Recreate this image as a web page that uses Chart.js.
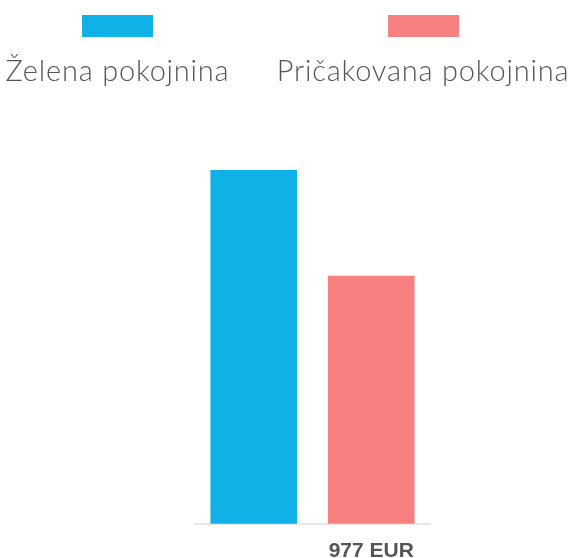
<!DOCTYPE html>
<html>
<head>
<meta charset="utf-8">
<script src="https://cdn.jsdelivr.net/npm/chart.js@4/dist/chart.umd.min.js"></script>
<style>
    html, body { margin: 0; padding: 0; background: #fff; overflow: hidden; }
    #wrap { position: relative; width: 571px; height: 558px; overflow: hidden; }
    #chart-box { position: absolute; left: 0; top: 0; }
    .legend-item { position: absolute; top: 15px; width: 340px; margin-left: -170px; text-align: center; }
    .legend-item .box { width: 71px; height: 22px; margin: 0 auto; }
    .legend-item .txt {
        font-family: 'Lato', 'Open Sans', sans-serif; font-weight: 300;
        font-size: 29px; letter-spacing: 0.8px; line-height: 30px; color: #555; margin-top: 18px; white-space: nowrap;
    }
</style>
</head>
<body>
<div id="wrap">
    <canvas id="chart-box" width="571" height="580"></canvas>
    <div id="legend"></div>
</div>
<script>
// pension comparison
const seriesNames = ['Želena pokojnina', 'Pričakovana pokojnina'];
const pensionValues = [1396, 977];
const tickLabels = ['', '977 EUR'];
const barColors = ['#10b1e6', '#f78080'];

const legendCenters = [117.5, 423];

document.addEventListener('DOMContentLoaded', () => {
    const ctx = document.getElementById('chart-box');

    const chart = new Chart(ctx, {
        type: 'bar',
        data: {
            labels: tickLabels,
            datasets: [{
                label: seriesNames.join(' / '),
                data: pensionValues,
                backgroundColor: barColors,
                borderWidth: 0,
                barThickness: 86
            }]
        },
        options: {
            responsive: false, animation: false, devicePixelRatio: 1,
            layout: { padding: { left: 195, right: 141, top: 170, bottom: 1 } },
            plugins: { legend: { display: false }, tooltip: { enabled: false } },
            scales: {
                x: {
                    grid: { display: false, drawTicks: false },
                    border: { display: true, color: '#e8e8e8', width: 2 },
                    ticks: { color: '#555', padding: 15, font: { family: "'Liberation Sans', Arial, sans-serif", weight: 'bold', size: 21 } }
                },
                y: { display: false, min: 0, max: Math.max(...pensionValues) }
            }
        }
    });

    // legend: box above its label
    const legend = document.getElementById('legend');
    seriesNames.forEach((name, i) => {
        const item = document.createElement('div');
        item.className = 'legend-item';
        item.style.left = legendCenters[i] + 'px';
        const box = document.createElement('div');
        box.className = 'box';
        box.style.background = chart.data.datasets[0].backgroundColor[i];
        const txt = document.createElement('div');
        txt.className = 'txt';
        txt.textContent = name;
        item.appendChild(box);
        item.appendChild(txt);
        legend.appendChild(item);
    });
});
</script>
</body>
</html>
